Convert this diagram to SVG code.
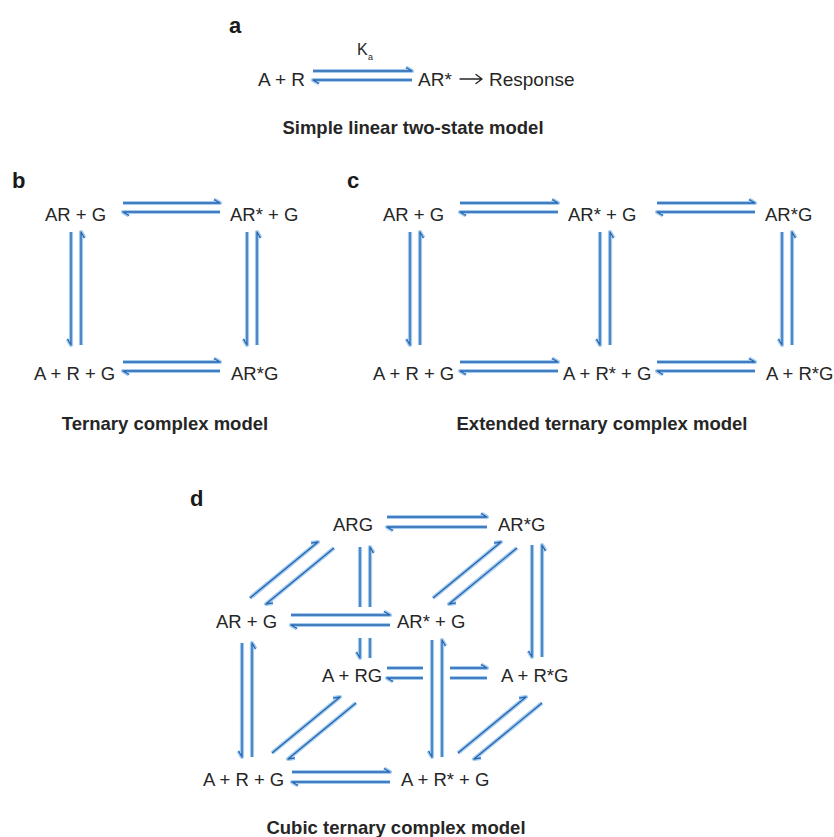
<svg xmlns="http://www.w3.org/2000/svg" xmlns:xlink="http://www.w3.org/1999/xlink" width="834" height="837" viewBox="0 0 834 837">
  <style>
    .t { font-family: "Liberation Sans", Arial, Helvetica, sans-serif; font-size: 18.5px; fill: #262626; }
    .big { font-size: 19px; }
    .sm { font-size: 16px; }
    .sub { font-size: 9px; }
    .cap { font-weight: bold; font-size: 18.5px; }
    .lbl { font-weight: bold; font-size: 22px; fill: #1a1a1a; }
    .band { fill: none; stroke: #a2cbef; stroke-width: 4.2; stroke-linejoin: round; }
    .core { fill: none; stroke: #2664b0; stroke-width: 1.3; stroke-linejoin: round; }
    .plain { fill: none; stroke: #262626; stroke-width: 1.4; stroke-linecap: round; stroke-linejoin: round; }
  </style>
  <defs>
    <!-- every harpoon path, drawn twice below: light band, then dark core -->
    <g id="arrowSet">
      <!-- a: A + R <-> AR* -->
      <path d="M313 71 H412 l-6 -3.5"/>
      <path d="M412 80 H313 l6 3.5"/>
      <!-- b: ternary complex -->
      <path d="M123 203 H220 l-6 -3.5"/>
      <path d="M220 212 H123 l6 3.5"/>
      <path d="M123 362 H220 l-6 -3.5"/>
      <path d="M220 371 H123 l6 3.5"/>
      <path d="M71 232 V345 l-3.5 -6"/>
      <path d="M81 345 V232 l3.5 6"/>
      <path d="M247 232 V345 l-3.5 -6"/>
      <path d="M257 345 V232 l3.5 6"/>
      <!-- c: extended ternary complex -->
      <path d="M460 203 H558 l-6 -3.5"/>
      <path d="M558 212 H460 l6 3.5"/>
      <path d="M657 203 H755 l-6 -3.5"/>
      <path d="M755 212 H657 l6 3.5"/>
      <path d="M460 362 H558 l-6 -3.5"/>
      <path d="M558 371 H460 l6 3.5"/>
      <path d="M657 362 H755 l-6 -3.5"/>
      <path d="M755 371 H657 l6 3.5"/>
      <path d="M410 232 V345 l-3.5 -6"/>
      <path d="M420 345 V232 l3.5 6"/>
      <path d="M600 232 V345 l-3.5 -6"/>
      <path d="M610 345 V232 l3.5 6"/>
      <path d="M782 232 V345 l-3.5 -6"/>
      <path d="M792 345 V232 l3.5 6"/>
      <!-- d: cubic ternary complex, horizontal edges -->
      <path d="M387 517 H487 l-6 -3.5"/>
      <path d="M487 527 H387 l6 3.5"/>
      <path d="M291 615 H390 l-6 -3.5"/>
      <path d="M390 625 H291 l6 3.5"/>
      <path d="M387 668 H423"/>
      <path d="M450 668 H487 l-6 -3.5"/>
      <path d="M423 678 H387 l6 3.5"/>
      <path d="M487 678 H450"/>
      <path d="M292 772 H390 l-6 -3.5"/>
      <path d="M390 782 H292 l6 3.5"/>
      <!-- d: vertical edges -->
      <path d="M242 643 V757 l-3.5 -6"/>
      <path d="M252 757 V643 l3.5 6"/>
      <path d="M360 547 V607"/>
      <path d="M360 638 V658 l-3.5 -6"/>
      <path d="M370 607 V547 l3.5 6"/>
      <path d="M370 658 V638"/>
      <path d="M532 545 V657 l-3.5 -6"/>
      <path d="M542 657 V545 l3.5 6"/>
      <path d="M432 640 V757 l-3.5 -6"/>
      <path d="M442 757 V640 l3.5 6"/>
      <!-- d: diagonal edges -->
      <path d="M250 598 L318 542 l-6.9 1.1"/>
      <path d="M334 548 L266 604 l6.9 -1.1"/>
      <path d="M433 598 L501 542 l-6.9 1.1"/>
      <path d="M517 548 L449 604 l6.9 -1.1"/>
      <path d="M272 753 L340 697 l-6.9 1.1"/>
      <path d="M356 703 L288 759 l6.9 -1.1"/>
      <path d="M458 753 L526 697 l-6.9 1.1"/>
      <path d="M542 703 L474 759 l6.9 -1.1"/>
    </g>
  </defs>

  <rect width="834" height="837" fill="#ffffff"/>

  <g id="connectors">
    <use href="#arrowSet" xlink:href="#arrowSet" class="band"/>
    <use href="#arrowSet" xlink:href="#arrowSet" class="core"/>
  </g>

  <!-- panel a -->
  <g id="panel-a">
    <text class="t lbl" x="229" y="33">a</text>
    <g id="a-const"><text class="t sm" x="357" y="55">K</text><text class="t sub" x="368" y="60">a</text></g>
    <g id="a-AR"><text class="t big" x="258" y="86">A + R</text></g>
    <g id="a-ARstar"><text class="t big" x="418" y="86">AR*</text></g>
    <g id="a-response">
      <path class="plain" d="M460 79 H482 M476 74.5 L482 79 L476 83.5"/>
      <text class="t big" x="489" y="86">Response</text>
    </g>
    <text class="t cap" x="413" y="134" text-anchor="middle">Simple linear two-state model</text>
  </g>

  <!-- panel b -->
  <g id="panel-b">
    <text class="t lbl" x="12" y="188">b</text>
    <g id="b-ARG"><text class="t" x="45" y="221">AR + G</text></g>
    <g id="b-ARstarG"><text class="t" x="230" y="221">AR* + G</text></g>
    <g id="b-ARGfree"><text class="t" x="34" y="380">A + R + G</text></g>
    <g id="b-ARstarGcx"><text class="t" x="231" y="380">AR*G</text></g>
    <text class="t cap" x="165" y="430" text-anchor="middle">Ternary complex model</text>
  </g>

  <!-- panel c -->
  <g id="panel-c">
    <text class="t lbl" x="347" y="188">c</text>
    <g id="c-ARG"><text class="t" x="383" y="221">AR + G</text></g>
    <g id="c-ARstarG"><text class="t" x="568" y="221">AR* + G</text></g>
    <g id="c-ARstarGcx"><text class="t" x="765" y="221">AR*G</text></g>
    <g id="c-ARGfree"><text class="t" x="373" y="380">A + R + G</text></g>
    <g id="c-ARstarfree"><text class="t" x="563" y="380">A + R* + G</text></g>
    <g id="c-RstarG"><text class="t" x="766" y="380">A + R*G</text></g>
    <text class="t cap" x="602" y="430" text-anchor="middle">Extended ternary complex model</text>
  </g>

  <!-- panel d -->
  <g id="panel-d">
    <text class="t lbl" x="190" y="506">d</text>
    <g id="d-ARGcx"><text class="t" x="333" y="531">ARG</text></g>
    <g id="d-ARstarGcx"><text class="t" x="498" y="531">AR*G</text></g>
    <g id="d-ARG"><text class="t" x="216" y="628">AR + G</text></g>
    <g id="d-ARstarG"><text class="t" x="397" y="628">AR* + G</text></g>
    <g id="d-RG"><text class="t" x="322" y="682">A + RG</text></g>
    <g id="d-RstarG"><text class="t" x="501" y="682">A + R*G</text></g>
    <g id="d-ARGfree"><text class="t" x="203" y="786">A + R + G</text></g>
    <g id="d-ARstarfree"><text class="t" x="401" y="786">A + R* + G</text></g>
    <text class="t cap" x="396" y="834" text-anchor="middle">Cubic ternary complex model</text>
  </g>
</svg>
